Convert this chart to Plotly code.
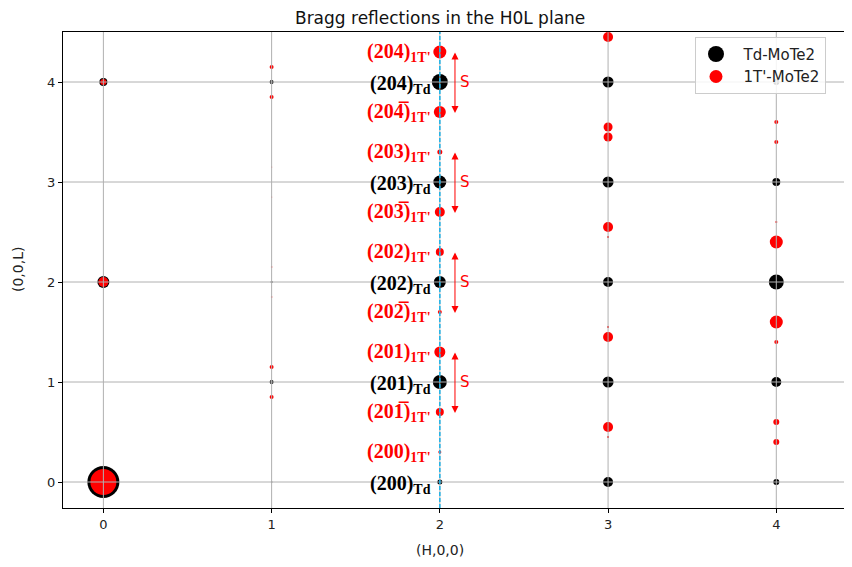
import plotly.graph_objects as go

# ---- data ----
td_H = [0, 0, 0, 1, 1, 1, 1, 2, 2, 2, 2, 2, 3, 3, 3, 3, 3, 4, 4, 4, 4, 4]
td_L = [0, 2, 4, 0, 1, 2, 4, 0, 1, 2, 3, 4, 0, 1, 2, 3, 4, 0, 1, 2, 3, 4]
td_size = [32, 12, 8, 1.5, 4, 2, 4, 5, 14, 12, 13, 16, 10, 11, 10, 11, 11, 6, 10, 15, 8, 6]

t1_H = [0, 0, 0,
        1, 1, 1, 1, 1, 1, 1, 1,
        2, 2, 2, 2, 2, 2, 2, 2, 2,
        3, 3, 3, 3, 3, 3, 3, 3, 3,
        4, 4, 4, 4, 4, 4, 4, 4]
t1_L = [0, 2, 4,
        0.85, 1.15, 1.85, 2.15, 2.85, 3.15, 3.85, 4.15,
        0.3, 0.7, 1.3, 1.7, 2.3, 2.7, 3.3, 3.7, 4.3,
        0.45, 0.55, 1.45, 1.55, 2.45, 2.55, 3.45, 3.55, 4.45,
        0.4, 0.6, 1.4, 1.6, 2.4, 2.6, 3.4, 3.6]
t1_size = [26, 10, 6,
           4, 4, 1.5, 1.5, 1.2, 1.2, 4, 4,
           3, 8, 11, 4, 8, 10, 5, 12, 13,
           2, 10, 10, 2, 2, 10, 9, 9, 10,
           6, 6, 4, 13, 13, 2, 4, 4]

lab_L = [4.3, 4.0, 3.7, 3.3, 3.0, 2.7, 2.3, 2.0, 1.7, 1.3, 1.0, 0.7, 0.3, 0.0]
lab_main = ["(204)", "(204)", "(204\u0305)",
            "(203)", "(203)", "(203\u0305)",
            "(202)", "(202)", "(202\u0305)",
            "(201)", "(201)", "(201\u0305)",
            "(200)", "(200)"]
lab_sub = ["1T'", "Td", "1T'", "1T'", "Td", "1T'", "1T'", "Td", "1T'",
           "1T'", "Td", "1T'", "1T'", "Td"]

s_L = [4, 3, 2, 1]
s_half = 0.31

x_ticks = [0, 1, 2, 3, 4]
y_ticks = [0, 1, 2, 3, 4]

RED = "#ff0000"
fig = go.Figure()

fig.add_trace(go.Scatter(x=td_H, y=td_L, mode="markers", showlegend=False,
                         marker=dict(color="black", size=td_size, opacity=1, line=dict(width=0))))
fig.add_trace(go.Scatter(x=t1_H, y=t1_L, mode="markers", showlegend=False,
                         marker=dict(color=RED, size=t1_size, opacity=1, line=dict(width=0))))
# legend entries
fig.add_trace(go.Scatter(x=[None], y=[None], mode="markers", name="\u2002Td-MoTe2",
                         marker=dict(color="black", size=17, opacity=1)))
fig.add_trace(go.Scatter(x=[None], y=[None], mode="markers", name="\u20021T'-MoTe2",
                         marker=dict(color=RED, size=13, opacity=1)))

shapes = []
for xv in x_ticks:
    shapes.append(dict(type="line", xref="x", yref="paper", x0=xv, x1=xv, y0=0, y1=1,
                       line=dict(color="#b0b0b0", width=1), layer="above"))
for yv in y_ticks:
    shapes.append(dict(type="line", xref="paper", yref="y", x0=0, x1=1, y0=yv, y1=yv,
                       line=dict(color="#b0b0b0", width=1), layer="above"))
shapes.append(dict(type="line", xref="x", yref="paper", x0=2, x1=2, y0=0, y1=1,
                   line=dict(color="#1ab2e8", width=1.5, dash="4px,2px"), layer="above"))

annotations = []
for L, m, s in zip(lab_L, lab_main, lab_sub):
    col = "black" if s == "Td" else RED
    annotations.append(dict(x=2, y=L, xref="x", yref="y", xanchor="right", yanchor="middle",
                            xshift=-7, yshift=-2 if s == "Td" else 0,
                            showarrow=False, text=f"<b>{m}<sub>{s}</sub></b>",
                            font=dict(family="Liberation Serif", size=20, color=col)))
for L in s_L:
    annotations.append(dict(x=2.09, y=L - s_half, ax=2.09, ay=L + s_half,
                            xref="x", yref="y", axref="x", ayref="y", text="",
                            showarrow=True, arrowside="end+start", arrowhead=2,
                            arrowsize=1.4, arrowwidth=1, arrowcolor=RED,
                            standoff=0, startstandoff=0))
    annotations.append(dict(x=2.15, y=L, xref="x", yref="y", showarrow=False, text="S",
                            xanchor="center", yanchor="middle",
                            font=dict(family="DejaVu Sans", size=15, color=RED)))
annotations.append(dict(x=0.478, y=-0.088, xref="paper", yref="paper", showarrow=False,
                        xanchor="center", yanchor="middle",
                        text="(H,0,0)", font=dict(family="DejaVu Sans", size=14, color="#222")))
annotations.append(dict(x=-0.057, y=0.5, xref="paper", yref="paper", showarrow=False,
                        xanchor="center", yanchor="middle",
                        text="(0,0,L)", textangle=-90,
                        font=dict(family="DejaVu Sans", size=14, color="#222")))

fig.update_layout(
    width=844, height=559,
    margin=dict(l=55, r=0, t=24, b=59),
    paper_bgcolor="white", plot_bgcolor="white",
    title=dict(text="Bragg reflections in the H0L plane", xref="container", x=0.512,
               y=0.982, xanchor="center", yanchor="middle",
               font=dict(family="DejaVu Sans", size=17, color="#111")),
    font=dict(family="DejaVu Sans", size=13, color="#222"),
    xaxis=dict(range=[-0.24, 4.45], tickvals=x_ticks, ticktext=[str(v) for v in x_ticks],
               showgrid=False, zeroline=False, showline=True, linecolor="black",
               linewidth=1.2, mirror=True, ticks="outside", ticklen=4, tickcolor="black",
               tickfont=dict(size=13)),
    yaxis=dict(range=[-0.26, 4.5], tickvals=y_ticks, ticktext=[str(v) for v in y_ticks],
               showgrid=False, zeroline=False, showline=True, linecolor="black",
               linewidth=1.2, mirror=False, ticks="outside", ticklen=4, tickcolor="black",
               tickfont=dict(size=13)),
    legend=dict(x=0.801, y=0.99, xanchor="left", yanchor="top",
                bgcolor="rgba(255,255,255,0.85)", bordercolor="#cccccc", borderwidth=1,
                font=dict(family="DejaVu Sans", size=15, color="#222"),
                itemsizing="trace"),
    shapes=shapes, annotations=annotations,
)

fig.write_html("out.html")
